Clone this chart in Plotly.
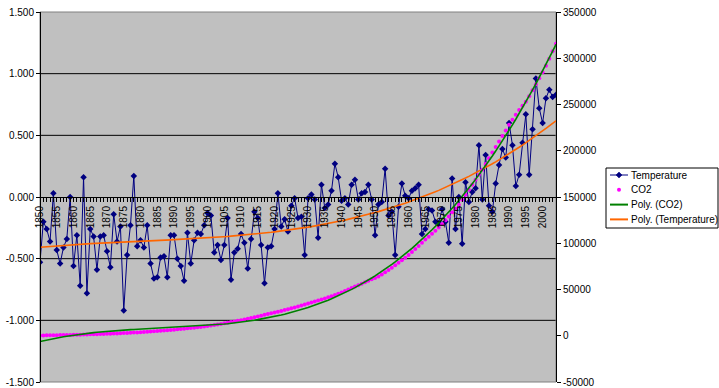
import numpy as np
import plotly.graph_objects as go

years = list(range(1850, 2005))

temperature = [
    -0.53, -0.20, -0.26, -0.36, 0.03, -0.43, -0.54, -0.41, -0.34, 0.00,
    -0.56, -0.31, -0.72, 0.16, -0.78, -0.26, -0.32, -0.59, -0.32, -0.31,
    -0.44, -0.57, -0.14, -0.36, -0.24, -0.92, -0.47, -0.23, 0.17, -0.40,
    -0.35, -0.41, -0.23, -0.54, -0.66, -0.65, -0.49, -0.48, -0.65, -0.31,
    -0.31, -0.50, -0.56, -0.68, -0.29, -0.54, -0.35, -0.29, -0.30, -0.23,
    -0.13, -0.15, -0.45, -0.39, -0.51, -0.39, -0.17, -0.67, -0.45, -0.42,
    -0.30, -0.37, -0.58, -0.34, -0.12, -0.17, -0.39, -0.70, -0.41, -0.40,
    -0.26, 0.03, -0.24, -0.18, -0.28, -0.07, -0.01, -0.17, -0.16, -0.47,
    -0.01, 0.02, -0.02, -0.33, 0.10, -0.09, -0.06, 0.05, 0.27, 0.16,
    -0.03, -0.01, -0.06, 0.10, 0.14, -0.02, 0.03, 0.04, 0.10, -0.02,
    -0.31, -0.06, -0.04, 0.23, -0.15, -0.12, -0.47, -0.08, 0.11, 0.01,
    -0.01, 0.05, 0.07, 0.10, -0.30, -0.26, -0.10, -0.11, -0.20, -0.21,
    -0.10, -0.20, -0.37, 0.15, -0.26, 0.00, -0.38, 0.12, -0.04, 0.04,
    0.07, 0.42, -0.02, 0.34, -0.07, -0.12, 0.11, 0.26, 0.39, 0.32,
    0.60, 0.42, 0.09, 0.18, 0.44, 0.67, 0.18, 0.55, 0.96, 0.72,
    0.60, 0.80, 0.87, 0.81, 0.83,
]

co2 = [
    300, 350, 410, 470, 540, 610, 690, 770, 850, 930,
    1020, 1110, 1200, 1300, 1400, 1510, 1620, 1740, 1860, 1990,
    2120, 2260, 2400, 2550, 2690, 2840, 3020, 3210, 3410, 3620,
    3840, 4070, 4310, 4560, 4820, 5080, 5350, 5640, 5940, 6250,
    6580, 6920, 7270, 7620, 7980, 8350, 8750, 9150, 9550, 10000,
    10500, 11000, 11550, 12150, 12750, 13400, 14050, 14750, 15400, 16100,
    16850, 17600, 18400, 19250, 20050, 20850, 21700, 22600, 23450, 24250,
    25150, 25950, 26800, 27750, 28700, 29650, 30600, 31650, 32750, 33900,
    35000, 36000, 36950, 38000, 39100, 40250, 41500, 42800, 44050, 45400,
    46850, 48350, 49900, 51500, 53150, 54600, 56100, 57750, 59500, 61000,
    62500, 64000, 66200, 68600, 71000, 73500, 76100, 78800, 81500, 84400,
    87400, 90500, 93700, 97000, 100500, 104000, 107000, 110300, 113500, 116900,
    120800, 124900, 129000, 133400, 137500, 141600, 146900, 152300, 157800, 163300,
    168700, 174000, 179500, 185700, 192000, 198000, 204000, 210000, 216000, 222000,
    228000, 233500, 238900, 244000, 248600, 253000, 259000, 265500, 272000, 278500,
    285000, 292000, 299500, 307500, 315700,
]

left_ticks = [-1.5, -1.0, -0.5, 0.0, 0.5, 1.0, 1.5]
left_labels = ["-1.500", "-1.000", "-0.500", "0.000", "0.500", "1.000", "1.500"]
right_ticks = [-50000, 0, 50000, 100000, 150000, 200000, 250000, 300000, 350000]
right_labels = ["-50000", "0", "50000", "100000", "150000", "200000", "250000", "300000", "350000"]
year_ticks = list(range(1850, 2001, 5))
year_labels = [str(y) for y in year_ticks]
grid_values = [-1.0, -0.5, 0.5, 1.0]

legend_names = ["Temperature", "CO2", "Poly. (CO2)", "Poly. (Temperature)"]
legend_colors = ["#000080", "#FF00FF", "#008000", "#FF6600"]

# Excel-style polynomial trendlines (x = 1..n)
xi = np.arange(1, len(years) + 1, dtype=float)
xc = (xi - xi.mean()) / xi.std()
poly_co2 = np.polyval(np.polyfit(xc, co2, 3), xc)
poly_temp = np.polyval(np.polyfit(xc, temperature, 3), xc)

FONT = "Liberation Sans, Arial, sans-serif"
W, H = 719, 388
ML, MR, MT, MB = 40, 163, 12, 6
PW, PH = W - ML - MR, H - MT - MB


def px(x):
    return (x - ML) / PW


def py(y):
    return (H - MB - y) / PH


fig = go.Figure()
fig.add_trace(go.Scatter(
    x=years, y=temperature, name=legend_names[0], mode="lines+markers",
    line=dict(color=legend_colors[0], width=1),
    marker=dict(symbol="diamond", size=5, color=legend_colors[0]),
    yaxis="y", showlegend=False,
))
fig.add_trace(go.Scatter(
    x=years, y=co2, name=legend_names[1], mode="markers",
    marker=dict(symbol="circle", size=4, color=legend_colors[1]),
    yaxis="y2", showlegend=False,
))
fig.add_trace(go.Scatter(
    x=years, y=poly_co2, name=legend_names[2], mode="lines",
    line=dict(color=legend_colors[2], width=1.6),
    yaxis="y2", showlegend=False,
))
fig.add_trace(go.Scatter(
    x=years, y=poly_temp, name=legend_names[3], mode="lines",
    line=dict(color=legend_colors[3], width=1.6),
    yaxis="y", showlegend=False,
))

shapes = [
    dict(type="line", xref="paper", x0=0, x1=1, yref="y", y0=g, y1=g,
         line=dict(color="black", width=1), layer="below")
    for g in grid_values
]
shapes.append(dict(type="rect", xref="paper", yref="paper", x0=0, x1=1, y0=0, y1=1,
                   line=dict(color="#808080", width=1), layer="below"))

# Legend box drawn Excel style
annotations = []
LX0, LX1, LY0, LY1 = 606, 718, 168, 228
shapes.append(dict(type="rect", xref="paper", yref="paper",
                   x0=px(LX0), x1=px(LX1), y0=py(LY1), y1=py(LY0),
                   line=dict(color="black", width=1), fillcolor="white", layer="above"))
for i, (name, col) in enumerate(zip(legend_names, legend_colors)):
    yc = 175 + i * 14.8
    if i != 1:
        shapes.append(dict(type="line", xref="paper", yref="paper",
                           x0=px(610), x1=px(628), y0=py(yc), y1=py(yc),
                           line=dict(color=col, width=1 if i == 0 else 2), layer="above"))
    if i == 0:
        d = 3
        path = "M {a},{b} L {c},{e} L {a},{f} L {g},{e} Z".format(
            a=px(619), b=py(yc - d), c=px(619 + d), e=py(yc), f=py(yc + d), g=px(619 - d))
        shapes.append(dict(type="path", xref="paper", yref="paper", path=path,
                           fillcolor=col, line=dict(color=col, width=0.5), layer="above"))
    if i == 1:
        shapes.append(dict(type="circle", xref="paper", yref="paper",
                           x0=px(617), x1=px(621), y0=py(yc + 2), y1=py(yc - 2),
                           fillcolor=col, line=dict(color=col, width=0), layer="above"))
    annotations.append(dict(x=px(629), y=py(yc), xref="paper", yref="paper",
                            text=name, showarrow=False, xanchor="left", yanchor="middle",
                            font=dict(family=FONT, size=10, color="black")))

fig.update_layout(
    width=W, height=H,
    margin=dict(l=ML, r=MR, t=MT, b=MB, autoexpand=False),
    paper_bgcolor="white",
    plot_bgcolor="#C0C0C0",
    font=dict(family=FONT, size=10, color="black"),
    showlegend=False,
    xaxis=dict(
        range=[1850, 2004], anchor="free", position=0.5,
        showline=True, linecolor="black", linewidth=1,
        showgrid=False, zeroline=False,
        tickmode="array", tickvals=year_ticks, ticktext=year_labels,
        tickangle=-90, ticks="outside", ticklen=4, tickcolor="black",
        minor=dict(dtick=1, tick0=1850, ticks="outside", ticklen=4, tickcolor="black", showgrid=False),
        tickfont=dict(family=FONT, size=10),
    ),
    yaxis=dict(
        range=[-1.5, 1.5], anchor="free", position=0,
        tickmode="array", tickvals=left_ticks, ticktext=left_labels,
        showline=True, linecolor="black", linewidth=1,
        ticks="outside", ticklen=4, tickcolor="black",
        showgrid=False, zeroline=False,
        tickfont=dict(family=FONT, size=10),
    ),
    yaxis2=dict(
        range=[-50000, 350000], overlaying="y", side="right", anchor="x",
        tickmode="array", tickvals=right_ticks, ticktext=right_labels,
        showline=True, linecolor="black", linewidth=1,
        ticks="outside", ticklen=4, tickcolor="black",
        showgrid=False, zeroline=False,
        tickfont=dict(family=FONT, size=10),
    ),
    shapes=shapes,
    annotations=annotations,
)

fig.write_html(
    "out.html",
    config={"displayModeBar": False},
    post_script="document.body.style.margin='0';document.body.style.overflow='hidden';",
)
